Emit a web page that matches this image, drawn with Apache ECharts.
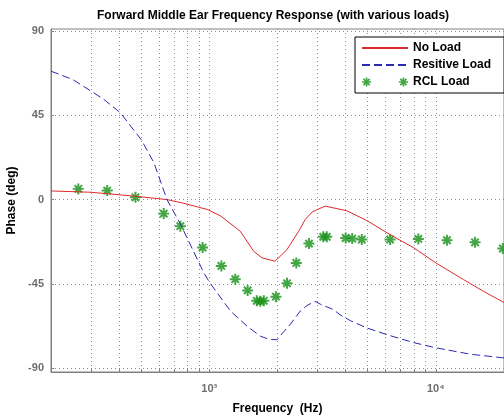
<!DOCTYPE html>
<html>
<head>
<meta charset="utf-8">
<title>Forward Middle Ear Frequency Response</title>
<script src="https://cdn.jsdelivr.net/npm/echarts@6/dist/echarts.min.js"></script>
<style>
    html, body { margin: 0; padding: 0; background: #fff; }
    #chart { width: 504px; height: 417px; }
</style>
</head>
<body>
<div id="chart"></div>
<script>
// 数据 (频率 Hz / 相位 deg)
var noLoadFreq  = [200, 300, 460, 650, 760, 980, 1120, 1370, 1570, 1710, 1950, 2200, 2480, 2650, 2850, 3250, 4050, 4960, 6280, 8000, 10000, 13250, 16200, 20000];
var noLoadPhase = [4.6, 3.9, 1.9, 0, -1.8, -5.3, -8.7, -16.9, -27.6, -31.1, -32.9, -26.8, -16.9, -10.7, -6.5, -3.5, -6.0, -11.2, -18.7, -25.8, -33.8, -42.7, -48.9, -54.9];

var resFreq  = [200, 250, 340, 405, 500, 570, 650, 745, 945, 1000, 1240, 1470, 1680, 1830, 1990, 2130, 2280, 2520, 2700, 2930, 3090, 3530, 3780, 4190, 4960, 6280, 7970, 10000, 14200, 20000];
var resPhase = [68.5, 64, 53.7, 46.3, 32, 19.6, 0, -13, -39, -44, -59.5, -67.6, -72.9, -74.5, -74.8, -70.5, -66.5, -59.5, -56.5, -54.3, -55.8, -58.7, -61.5, -64.6, -68.5, -72.6, -76.3, -79.1, -82.5, -84.5];

var rclFreq  = [264, 354, 472, 629, 745, 934, 1130, 1302, 1476, 1620, 1680, 1740, 1968, 2203, 2421, 2754, 3184, 3300, 4000, 4273, 4712, 6281, 8373, 11200, 14900, 19770];
var rclPhase = [5.7, 4.8, 1.2, -7.5, -14.2, -25.6, -35.4, -42.5, -48.5, -54, -54.3, -54, -51.8, -44.7, -33.8, -23.5, -19.9, -19.9, -20.5, -20.8, -21.3, -21.3, -21, -21.7, -22.8, -26.1];

// 网格线与刻度
var xGridFreq = [300, 400, 500, 600, 700, 800, 900, 1000, 2000, 3000, 4000, 5000, 6000, 7000, 8000, 9000, 10000];
var xLabelFreq = [1000, 10000];
var yTicks = [-90, -45, 0, 45, 90];

(function () {
    'use strict';
    var myChart = echarts.init(document.getElementById('chart'));

    function lg(v) { return Math.log10(v); }
    function pairs(fs, ps) {
        return fs.map(function (f, i) { return [lg(f), ps[i]]; });
    }
    var sup = { 3: '\u00b3', 4: '\u2074' };

    // MATLAB 风格的星号
    function starPath(dx) {
        var p = [[4.1, 0, 5.9, 0, 5.9, 10, 4.1, 10], [0, 4.1, 10, 4.1, 10, 5.9, 0, 5.9],
                 [1.0, 2.3, 2.3, 1.0, 9.0, 7.7, 7.7, 9.0], [7.7, 1.0, 9.0, 2.3, 2.3, 9.0, 1.0, 7.7]];
        return p.map(function (q) {
            return 'M' + (q[0] + dx) + ' ' + q[1] + 'L' + (q[2] + dx) + ' ' + q[3] +
                'L' + (q[4] + dx) + ' ' + q[5] + 'L' + (q[6] + dx) + ' ' + q[7] + 'Z';
        }).join(' ');
    }
    var star = 'path://' + starPath(0);
    var twoStars = 'path://' + starPath(0) + ' ' + starPath(40);

    var gridLine = { show: true, lineStyle: { color: '#8c8c8c', type: [1, 3], width: 1 } };
    var font = 'Liberation Sans, Arial, sans-serif';
    var hide = { opacity: 0 };

    var option = {
        animation: false,
        textStyle: { fontFamily: font },
        title: {
            text: 'Forward Middle Ear Frequency Response (with various loads)',
            left: 92,
            top: 5,
            textStyle: { fontSize: 12, fontWeight: 'bold', color: '#000', fontFamily: font }
        },
        grid: {
            left: 51, right: 0, top: 29, bottom: 45,
            outerBoundsMode: 'none',
            containLabel: false,
            show: true, borderColor: '#808080', borderWidth: 1, backgroundColor: '#fff'
        },
        legend: {
            orient: 'vertical',
            left: 355,
            top: 37,
            padding: [5, 13, 5, 6],
            itemGap: 5,
            itemWidth: 46,
            itemHeight: 10,
            backgroundColor: '#fff',
            borderColor: '#000',
            borderWidth: 1,
            borderRadius: 0,
            textStyle: { fontSize: 12, fontWeight: 'bold', color: '#000', fontFamily: font },
            data: [
                { name: 'No Load', itemStyle: hide },
                { name: 'Resitive Load', itemStyle: hide },
                { name: 'RCL Load', icon: twoStars }
            ]
        },
        xAxis: {
            type: 'value',
            min: lg(200),
            max: lg(20000),
            name: 'Frequency  (Hz)',
            nameLocation: 'middle',
            nameGap: 31,
            nameTextStyle: { fontSize: 12, fontWeight: 'bold', color: '#000', fontFamily: font },
            axisLine: { show: true, onZero: false, lineStyle: { color: '#808080' } },
            axisTick: { show: true, inside: true, length: 3, lineStyle: { color: '#808080' },
                customValues: xGridFreq.map(lg) },
            axisLabel: {
                customValues: xLabelFreq.map(lg),
                margin: 11,
                fontSize: 11, fontWeight: 'bold', color: '#6e6e6e',
                formatter: function (v) { return '10' + sup[Math.round(v)]; }
            },
            splitLine: gridLine
        },
        yAxis: {
            type: 'value',
            min: -92,
            max: 91,
            name: 'Phase (deg)',
            nameLocation: 'middle',
            nameGap: 24,
            nameTextStyle: { fontSize: 12, fontWeight: 'bold', color: '#000', fontFamily: font },
            axisLine: { show: true, onZero: false, lineStyle: { color: '#808080' } },
            axisTick: { show: true, inside: true, length: 3, lineStyle: { color: '#808080' },
                customValues: yTicks },
            axisLabel: {
                customValues: yTicks,
                margin: 7,
                fontSize: 11, fontWeight: 'bold', color: '#6e6e6e'
            },
            splitLine: gridLine
        },
        series: [{
            name: 'No Load',
            type: 'line',
            showSymbol: false,
            symbol: 'none',
            lineStyle: { color: '#dd2a2a', width: 1 },
            itemStyle: { color: '#dd2a2a' },
            data: pairs(noLoadFreq, noLoadPhase)
        }, {
            name: 'Resitive Load',
            type: 'line',
            showSymbol: false,
            symbol: 'none',
            lineStyle: { color: '#2a2ab0', width: 1, type: [8, 4] },
            itemStyle: { color: '#2a2ab0' },
            data: pairs(resFreq, resPhase)
        }, {
            name: 'RCL Load',
            type: 'scatter',
            symbol: star,
            symbolSize: 11,
            itemStyle: { color: '#179017' },
            data: pairs(rclFreq, rclPhase)
        }]
    };

    myChart.setOption(option);
    window.addEventListener('resize', function () {
        myChart.resize();
    });
})();
</script>
</body>
</html>
